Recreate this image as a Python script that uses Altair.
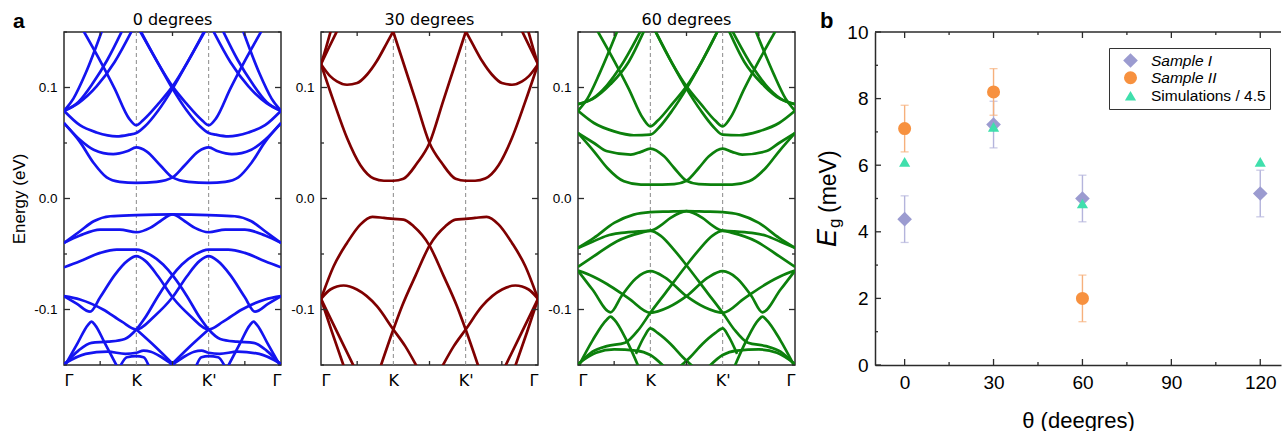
import json
import altair as alt
import pandas as pd

# ---------------- panel a : band structures ----------------
PATH_TICKS = [0, 1, 2, 3]
PATH_LABELS = ["Γ", "K", "K'", "Γ"]
VALLEYS = [1, 2]
E_MAJOR = [-0.1, 0.0, 0.1]
E_MINOR = [-0.15, -0.05, 0.05, 0.15]
K_MINOR = [0.5, 1.5, 2.5]
PANEL_TITLES = ["0 degrees", "30 degrees", "60 degrees"]
PANEL_COLORS = ["#1414f0", "#7f0000", "#0c800c"]

BANDS_0 = {
    "c1a": ([0, 0.22, 0.41, 0.59, 0.77, 1.0, 1.28, 1.5, 1.67, 1.86, 2.0, 2.13, 2.32, 2.59, 2.78, 3.0],
            [0.068, 0.051, 0.032, 0.019, 0.015, 0.014, 0.015, 0.019, 0.030, 0.0425, 0.046, 0.0425, 0.040, 0.044, 0.053, 0.068]),
    "c1b": ([0, 0.22, 0.41, 0.68, 0.87, 1.0, 1.14, 1.33, 1.5, 1.72, 2.0, 2.23, 2.41, 2.59, 2.78, 3.0],
            [0.068, 0.053, 0.044, 0.040, 0.0425, 0.046, 0.0425, 0.030, 0.019, 0.015, 0.014, 0.015, 0.019, 0.032, 0.051, 0.068]),
    "c3a": ([0, 0.22, 0.45, 0.73, 0.9, 1.0, 1.12, 1.3, 1.5, 1.7, 1.96],
            [0.079, 0.066, 0.0595, 0.056, 0.0575, 0.059, 0.065, 0.079, 0.099, 0.122, 0.152]),
    "c3b": ([1.04, 1.3, 1.5, 1.7, 1.88, 2.0, 2.1, 2.27, 2.55, 2.78, 3.0],
            [0.152, 0.122, 0.099, 0.079, 0.065, 0.059, 0.0575, 0.056, 0.0595, 0.066, 0.079]),
    "vka": ([0.26, 0.5, 0.7, 0.9, 1.0, 1.1, 1.3, 1.5, 1.7, 1.95],
            [0.152, 0.124, 0.099, 0.072, 0.066, 0.071, 0.085, 0.101, 0.122, 0.152]),
    "vkb": ([1.05, 1.3, 1.5, 1.7, 1.9, 2.0, 2.1, 2.3, 2.5, 2.74],
            [0.152, 0.122, 0.101, 0.085, 0.071, 0.066, 0.072, 0.099, 0.124, 0.152]),
    "r1a": ([0, 0.13, 0.3, 0.53], [0.079, 0.09, 0.113, 0.152]),
    "r2a": ([0, 0.2, 0.4, 0.6, 0.81], [0.079, 0.087, 0.104, 0.125, 0.152]),
    "r3a": ([0, 0.2, 0.45, 0.7, 0.945], [0.079, 0.086, 0.101, 0.123, 0.152]),
    "r1b": ([2.47, 2.7, 2.87, 3.0], [0.152, 0.113, 0.09, 0.079]),
    "r2b": ([2.19, 2.4, 2.6, 2.8, 3.0], [0.152, 0.125, 0.104, 0.087, 0.079]),
    "r3b": ([2.055, 2.3, 2.55, 2.8, 3.0], [0.152, 0.123, 0.101, 0.086, 0.079]),
    "vfa": ([0, 0.22, 0.41, 0.64, 1.0, 1.25, 1.5, 1.67, 1.81, 2.0, 2.23, 2.5, 2.78, 3.0],
            [-0.040, -0.0295, -0.0205, -0.016, -0.015, -0.0145, -0.0143, -0.0205, -0.0265, -0.0304, -0.028, -0.028, -0.0334, -0.040]),
    "vfb": ([0, 0.22, 0.5, 0.77, 1.0, 1.19, 1.33, 1.5, 1.75, 2.0, 2.36, 2.59, 2.78, 3.0],
            [-0.040, -0.0334, -0.028, -0.028, -0.0304, -0.0265, -0.0205, -0.0143, -0.0145, -0.015, -0.016, -0.0205, -0.0295, -0.040]),
    "v3a": ([0, 0.22, 0.5, 0.73, 1.0, 1.19, 1.37, 1.51, 1.7, 1.88, 2.0, 2.16, 2.39, 2.62, 2.8, 3.0],
            [-0.062, -0.0565, -0.049, -0.046, -0.046, -0.0505, -0.0595, -0.070, -0.088, -0.1075, -0.118, -0.1265, -0.129, -0.130, -0.137, -0.150]),
    "v3b": ([0, 0.2, 0.38, 0.61, 0.84, 1.0, 1.12, 1.3, 1.49, 1.63, 1.81, 2.0, 2.27, 2.5, 2.78, 3.0],
            [-0.150, -0.137, -0.130, -0.129, -0.1265, -0.118, -0.1075, -0.088, -0.070, -0.0595, -0.0505, -0.046, -0.046, -0.049, -0.0565, -0.062]),
    "v4a": ([0, 0.18, 0.36, 0.5, 0.7, 0.88, 1.0, 1.12, 1.3, 1.5, 1.75, 2.0, 2.2, 2.46, 2.78, 3.0],
            [-0.088, -0.095, -0.102, -0.089, -0.069, -0.056, -0.052, -0.056, -0.070, -0.089, -0.106, -0.118, -0.111, -0.100, -0.091, -0.088]),
    "v4b": ([0, 0.22, 0.54, 0.8, 1.0, 1.25, 1.5, 1.7, 1.88, 2.0, 2.12, 2.3, 2.5, 2.64, 2.82, 3.0],
            [-0.088, -0.091, -0.100, -0.111, -0.118, -0.106, -0.089, -0.070, -0.056, -0.052, -0.056, -0.069, -0.089, -0.102, -0.095, -0.088]),
    "pka": ([0, 0.19, 0.33, 0.38, 0.43, 0.57, 0.74], [-0.152, -0.13, -0.114, -0.111, -0.114, -0.131, -0.152]),
    "pkb": ([2.26, 2.43, 2.57, 2.62, 2.67, 2.81, 3.0], [-0.152, -0.131, -0.114, -0.111, -0.114, -0.13, -0.152]),
    "xa": ([1.0, 1.27, 1.55], [-0.118, -0.134, -0.152]),
    "xb": ([1.45, 1.73, 2.0], [-0.152, -0.134, -0.118]),
    "b1a": ([0, 0.3, 0.6, 0.85, 1.0, 1.1, 1.2, 1.35, 1.55], [-0.149, -0.140, -0.138, -0.140, -0.139, -0.137, -0.138, -0.143, -0.152]),
    "b1b": ([1.45, 1.65, 1.8, 1.9, 2.0, 2.15, 2.4, 2.7, 3.0], [-0.152, -0.143, -0.138, -0.137, -0.139, -0.140, -0.138, -0.140, -0.149]),
    "cpa": ([0.77, 0.87, 1.0, 1.1, 1.18], [-0.152, -0.143, -0.142, -0.143, -0.152]),
    "cpb": ([1.82, 1.9, 2.0, 2.13, 2.23], [-0.152, -0.143, -0.142, -0.143, -0.152]),
}

BANDS_30 = {
    "u1a": ([0, 0.13, 0.22, 0.36, 0.5, 0.635, 0.77, 0.91, 1.01],
            [0.121, 0.11, 0.1055, 0.1025, 0.104, 0.1115, 0.1236, 0.140, 0.152]),
    "u1b": ([1.99, 2.09, 2.23, 2.365, 2.5, 2.64, 2.78, 2.87, 3.0],
            [0.152, 0.140, 0.1236, 0.1115, 0.104, 0.1025, 0.1055, 0.11, 0.121]),
    "u2a": ([0, 0.175, 0.36, 0.545, 0.73, 0.87, 1.0, 1.14, 1.325, 1.5, 1.69, 1.875, 2.01],
            [0.121, 0.0875, 0.0545, 0.030, 0.018, 0.016, 0.016, 0.0178, 0.0315, 0.05, 0.088, 0.125, 0.152]),
    "u2b": ([0.99, 1.125, 1.31, 1.5, 1.675, 1.86, 2.0, 2.13, 2.27, 2.455, 2.64, 2.825, 3.0],
            [0.152, 0.125, 0.088, 0.05, 0.0315, 0.0178, 0.016, 0.016, 0.018, 0.030, 0.0545, 0.0875, 0.121]),
    "s1a": ([0, 0.07, 0.14], [0.121, 0.136, 0.152]),
    "s2a": ([0, 0.11, 0.23], [0.121, 0.136, 0.152]),
    "s1b": ([2.86, 2.93, 3.0], [0.152, 0.136, 0.121]),
    "s2b": ([2.77, 2.89, 3.0], [0.152, 0.136, 0.121]),
    "l1a": ([0, 0.175, 0.36, 0.543, 0.71, 0.87, 1.0, 1.14, 1.28, 1.5, 1.69, 1.88, 2.0, 2.18],
            [-0.0904, -0.061, -0.040, -0.0235, -0.0165, -0.0175, -0.0184, -0.019, -0.025, -0.0424, -0.069, -0.097, -0.118, -0.152]),
    "l1b": ([0.82, 1.0, 1.12, 1.31, 1.5, 1.72, 1.86, 2.0, 2.13, 2.29, 2.457, 2.64, 2.825, 3.0],
            [-0.152, -0.118, -0.097, -0.069, -0.0424, -0.025, -0.019, -0.0184, -0.0175, -0.0165, -0.0235, -0.040, -0.061, -0.0904]),
    "l2a": ([0, 0.129, 0.313, 0.497, 0.773, 1.0, 1.164, 1.33],
            [-0.0904, -0.082, -0.0784, -0.082, -0.097, -0.118, -0.133, -0.152]),
    "l2b": ([1.67, 1.836, 2.0, 2.227, 2.503, 2.687, 2.871, 3.0],
            [-0.152, -0.133, -0.118, -0.097, -0.082, -0.0784, -0.082, -0.0904]),
    "d1a": ([0, 0.15, 0.32], [-0.0904, -0.12, -0.152]),
    "d2a": ([0, 0.22, 0.46], [-0.0904, -0.12, -0.152]),
    "d1b": ([2.68, 2.85, 3.0], [-0.152, -0.12, -0.0904]),
    "d2b": ([2.54, 2.78, 3.0], [-0.152, -0.12, -0.0904]),
}

BANDS_60 = {
    "c1a": ([0, 0.22, 0.405, 0.635, 0.87, 1.0, 1.33, 1.5, 1.67, 1.81, 2.0, 2.13, 2.27, 2.595, 2.78, 3.0],
            [0.059, 0.0425, 0.0275, 0.0155, 0.0125, 0.0125, 0.013, 0.016, 0.0275, 0.038, 0.045, 0.042, 0.0395, 0.0425, 0.050, 0.059]),
    "c1b": ([0, 0.22, 0.405, 0.73, 0.87, 1.0, 1.19, 1.33, 1.5, 1.67, 2.0, 2.13, 2.365, 2.595, 2.78, 3.0],
            [0.059, 0.050, 0.0425, 0.0395, 0.042, 0.045, 0.038, 0.0275, 0.016, 0.013, 0.0125, 0.0125, 0.0155, 0.0275, 0.0425, 0.059]),
    "c3a": ([0, 0.22, 0.5, 0.77, 1.0, 1.12, 1.3, 1.5, 1.7, 1.94],
            [0.079, 0.068, 0.0605, 0.057, 0.0575, 0.064, 0.079, 0.099, 0.122, 0.152]),
    "c3b": ([1.06, 1.3, 1.5, 1.7, 1.88, 2.0, 2.23, 2.5, 2.78, 3.0],
            [0.152, 0.122, 0.099, 0.079, 0.064, 0.0575, 0.057, 0.0605, 0.068, 0.079]),
    "vka": ([0.26, 0.5, 0.7, 0.9, 1.0, 1.1, 1.3, 1.5, 1.7, 1.94],
            [0.152, 0.124, 0.099, 0.072, 0.065, 0.070, 0.085, 0.101, 0.122, 0.152]),
    "vkb": ([1.06, 1.3, 1.5, 1.7, 1.9, 2.0, 2.1, 2.3, 2.5, 2.74],
            [0.152, 0.122, 0.101, 0.085, 0.070, 0.065, 0.072, 0.099, 0.124, 0.152]),
    "r1a": ([0, 0.13, 0.3, 0.55], [0.079, 0.09, 0.113, 0.152]),
    "r2a": ([0, 0.2, 0.4, 0.6, 0.875], [0.085, 0.09, 0.102, 0.12, 0.152]),
    "r3a": ([0, 0.2, 0.45, 0.7, 0.92], [0.085, 0.0895, 0.103, 0.123, 0.152]),
    "r1b": ([2.45, 2.7, 2.87, 3.0], [0.152, 0.113, 0.09, 0.079]),
    "r2b": ([2.125, 2.4, 2.6, 2.8, 3.0], [0.152, 0.12, 0.102, 0.09, 0.085]),
    "r3b": ([2.08, 2.3, 2.55, 2.8, 3.0], [0.152, 0.123, 0.103, 0.0895, 0.085]),
    "tda": ([0, 0.2, 0.4, 0.6, 0.85, 1.0, 1.15, 1.28, 1.5, 1.75, 2.0, 2.23, 2.5, 2.78, 3.0],
            [-0.0445, -0.039, -0.0335, -0.031, -0.0295, -0.029, -0.024, -0.0175, -0.0114, -0.0118, -0.0123, -0.0145, -0.022, -0.0355, -0.0445]),
    "tfa": ([0, 0.22, 0.5, 0.77, 1.0, 1.25, 1.5, 1.72, 1.85, 2.0, 2.15, 2.4, 2.6, 2.8, 3.0],
            [-0.0445, -0.0355, -0.022, -0.0145, -0.0123, -0.0118, -0.0114, -0.0175, -0.024, -0.029, -0.0295, -0.031, -0.0335, -0.039, -0.0445]),
    "l3a": ([0, 0.22, 0.54, 0.865, 1.0, 1.14, 1.325, 1.51, 1.79, 2.0, 2.16, 2.35, 2.6, 2.8, 3.0],
            [-0.0616, -0.052, -0.0385, -0.031, -0.0292, -0.0334, -0.046, -0.061, -0.085, -0.103, -0.118, -0.130, -0.133, -0.138, -0.150]),
    "l3b": ([0, 0.2, 0.4, 0.65, 0.84, 1.0, 1.21, 1.49, 1.675, 1.86, 2.0, 2.135, 2.46, 2.78, 3.0],
            [-0.150, -0.138, -0.133, -0.130, -0.118, -0.103, -0.085, -0.061, -0.046, -0.0334, -0.0292, -0.031, -0.0385, -0.052, -0.0616]),
    "v4a": ([0, 0.2, 0.45, 0.6, 0.8, 1.0, 1.2, 1.5, 1.75, 2.0, 2.3, 2.6, 2.8, 3.0],
            [-0.065, -0.082, -0.1025, -0.088, -0.072, -0.0655, -0.071, -0.088, -0.098, -0.103, -0.090, -0.077, -0.070, -0.065]),
    "v4b": ([0, 0.2, 0.4, 0.7, 1.0, 1.25, 1.5, 1.8, 2.0, 2.2, 2.4, 2.55, 2.8, 3.0],
            [-0.065, -0.070, -0.077, -0.090, -0.103, -0.098, -0.088, -0.071, -0.0655, -0.072, -0.088, -0.1025, -0.082, -0.065]),
    "pka": ([0, 0.2, 0.4, 0.45, 0.5, 0.68, 0.84], [-0.152, -0.128, -0.109, -0.1065, -0.109, -0.129, -0.152]),
    "pkb": ([2.16, 2.32, 2.5, 2.55, 2.6, 2.8, 3.0], [-0.152, -0.129, -0.109, -0.1065, -0.109, -0.128, -0.152]),
    "qa": ([0.8, 0.92, 1.0, 1.1, 1.28, 1.45, 1.6], [-0.140, -0.124, -0.117, -0.121, -0.131, -0.143, -0.152]),
    "qb": ([1.4, 1.55, 1.72, 1.9, 2.0, 2.08, 2.2], [-0.152, -0.143, -0.131, -0.121, -0.117, -0.124, -0.140]),
    "sha": ([0, 0.25, 0.5, 0.8, 1.0, 1.2], [-0.149, -0.139, -0.136, -0.137, -0.141, -0.152]),
    "shb": ([1.8, 2.0, 2.2, 2.5, 2.75, 3.0], [-0.152, -0.141, -0.137, -0.136, -0.139, -0.149]),
}

# ---------------- panel b : gap vs twist angle ----------------
SERIES = ["Sample I", "Sample II", "Simulations / 4.5"]
SERIES_COLORS = ["#9b9bd0", "#f7913f", "#3fdfac"]
ERROR_COLORS = ["#b4b4dc", "#f6b07c", "#3fdfac"]
SERIES_SHAPES = ["diamond", "circle", "triangle-up"]
SERIES_SIZES = [215, 125, 290]
S1_THETA = [0, 30, 60, 120]
S1_EG = [4.38, 7.22, 5.0, 5.15]
S1_ERR = [0.7, 0.7, 0.7, 0.7]
S2_THETA = [0, 30, 60]
S2_EG = [7.1, 8.2, 2.0]
S2_ERR = [0.7, 0.7, 0.7]
SIM_THETA = [0, 30, 60, 120]
SIM_EG = [6.1, 7.15, 4.85, 6.1]
THETA_MAJOR = [0, 30, 60, 90, 120]
THETA_MINOR = [15, 45, 75, 105]
EG_MAJOR = [0, 2, 4, 6, 8, 10]
EG_MINOR = [1, 3, 5, 7, 9]

W, H = 217, 333
WB = 406
FONT = "Liberation Sans"
FRAME = "#2b2b2b"
PLOT0_LEFT, PLOT_TOP = 64, 32
LEGEND_BOX = (1109, 48)


def band_frame(bands):
    rows = []
    for name, (ks, es) in bands.items():
        for i, (k, e) in enumerate(zip(ks, es)):
            rows.append({"band": name, "k": k, "E": e, "i": i})
    return pd.DataFrame(rows)


def tick_rules(values, field, enc, side, length, size):
    df = pd.DataFrame({field: values})
    ch = alt.Chart(df).mark_rule(color=FRAME, strokeWidth=1.3)
    if side == "left":
        return ch.encode(y=enc(field), x=alt.value(0), x2=alt.value(length))
    if side == "right":
        return ch.encode(y=enc(field), x=alt.value(size - length), x2=alt.value(size))
    if side == "bottom":
        return ch.encode(x=enc(field), y=alt.value(size - length), y2=alt.value(size))
    return ch.encode(x=enc(field), y=alt.value(0), y2=alt.value(length))


def text_layer(txt, x, y, **kw):
    return alt.Chart(pd.DataFrame({"t": [txt]})).mark_text(color="black", **kw).encode(
        text="t:N", x=alt.value(x), y=alt.value(y))


label_js = json.dumps(PATH_LABELS, ensure_ascii=False)


def band_panel(bands, color, title, first):
    df = band_frame(bands)
    xs = alt.Scale(domain=[0, 3], nice=False, zero=False)
    ys = alt.Scale(domain=[-0.15, 0.15], nice=False, zero=False)
    x_axis = alt.Axis(values=PATH_TICKS, labelExpr=f"{label_js}[datum.value]",
                      ticks=False, domain=False, grid=False, title=None,
                      labelFontSize=16, labelPadding=7, labelFont="DejaVu Sans")
    y_axis = alt.Axis(values=E_MAJOR, labelExpr="replace(format(datum.value, '.1f'), '\u2212', '-')",
                      ticks=False, domain=False, grid=False,
                      title="Energy (eV)" if first else None,
                      titleFontSize=17, titlePadding=5, labelFontSize=13.5, labelPadding=7)

    def xe(f):
        return alt.X(f"{f}:Q", scale=xs, axis=x_axis)

    def ye(f):
        return alt.Y(f"{f}:Q", scale=ys, axis=y_axis)

    lines = alt.Chart(df).mark_line(clip=True, strokeWidth=2.7, color=color, interpolate="monotone").encode(
        x=xe("k"), y=ye("E"), detail="band:N", order="i:Q")
    dashes = alt.Chart(pd.DataFrame({"k": VALLEYS})).mark_rule(
        color="#8a8a8a", strokeWidth=1, strokeDash=[4, 3]).encode(x=xe("k"))
    layers = [dashes, lines,
              tick_rules(E_MAJOR, "E", ye, "left", 6, W), tick_rules(E_MAJOR, "E", ye, "right", 6, W),
              tick_rules(E_MINOR, "E", ye, "left", 3, W), tick_rules(E_MINOR, "E", ye, "right", 3, W),
              tick_rules(K_MINOR, "k", xe, "bottom", 4, H), tick_rules(K_MINOR, "k", xe, "top", 4, H),
              text_layer(title, W / 2, -7, font="DejaVu Sans", fontSize=16, align="center", baseline="alphabetic")]
    if first:
        layers.append(text_layer("a", -51, -4, font=FONT, fontSize=21, fontWeight="bold",
                                 align="left", baseline="alphabetic"))
    return alt.layer(*layers).properties(
        width=W, height=H,
        view=alt.ViewBackground(stroke=FRAME, strokeWidth=1.5),
    )


p0 = band_panel(BANDS_0, PANEL_COLORS[0], PANEL_TITLES[0], True)
p30 = band_panel(BANDS_30, PANEL_COLORS[1], PANEL_TITLES[1], False)
p60 = band_panel(BANDS_60, PANEL_COLORS[2], PANEL_TITLES[2], False)

# ---- panel b
rows = []
for th, eg, er in zip(S1_THETA, S1_EG, S1_ERR):
    rows.append({"series": SERIES[0], "theta": th, "Eg": eg, "err": er})
for th, eg, er in zip(S2_THETA, S2_EG, S2_ERR):
    rows.append({"series": SERIES[1], "theta": th, "Eg": eg, "err": er})
for th, eg in zip(SIM_THETA, SIM_EG):
    rows.append({"series": SERIES[2], "theta": th, "Eg": eg, "err": None})
pts = pd.DataFrame(rows)

xsb = alt.Scale(domain=[-10, 127], nice=False, zero=False)
ysb = alt.Scale(domain=[0, 10], nice=False, zero=False)
xb_axis = alt.Axis(values=THETA_MAJOR, ticks=False, grid=False, domain=True,
                   domainColor=FRAME, domainWidth=1.5, labelFontSize=19,
                   labelPadding=8, title="θ (deegres)", titleFontSize=22, titlePadding=18)
yb_axis = alt.Axis(values=EG_MAJOR, ticks=False, grid=False, domain=True,
                   domainColor=FRAME, domainWidth=1.5, labelFontSize=19,
                   labelPadding=7, title=None)


def xbe(f):
    return alt.X(f"{f}:Q", scale=xsb, axis=xb_axis)


def ybe(f):
    return alt.Y(f"{f}:Q", scale=ysb, axis=yb_axis)


err_layers = []
for s, col in zip(SERIES[:2], ERROR_COLORS[:2]):
    base = alt.Chart(pts).transform_filter(alt.datum.series == s).transform_calculate(
        lo="datum.Eg - datum.err", hi="datum.Eg + datum.err")
    err_layers.append(base.mark_rule(strokeWidth=1.4, color=col).encode(x=xbe("theta"), y=ybe("lo"), y2="hi:Q"))
    err_layers.append(base.mark_tick(orient="horizontal", size=8, thickness=1.3, color=col).encode(
        x=xbe("theta"), y=ybe("lo")))
    err_layers.append(base.mark_tick(orient="horizontal", size=8, thickness=1.3, color=col).encode(
        x=xbe("theta"), y=ybe("hi")))

points = alt.Chart(pts).mark_point(filled=True, opacity=1, strokeWidth=0).encode(
    x=xbe("theta"), y=ybe("Eg"),
    color=alt.Color("series:N", scale=alt.Scale(domain=SERIES, range=SERIES_COLORS),
                    legend=alt.Legend(title=None, orient="none",
                                      legendX=LEGEND_BOX[0] - PLOT0_LEFT, legendY=LEGEND_BOX[1] - PLOT_TOP,
                                      strokeColor="#333", fillColor="white", padding=4,
                                      labelFont=FONT, labelFontSize=15.5, labelColor="black",
                                      labelFontStyle=alt.ExprRef(
                                          expr="datum.label == 'Simulations / 4.5' ? 'normal' : 'italic'"),
                                      rowPadding=1, symbolOffset=9, labelOffset=12)),
    shape=alt.Shape("series:N", scale=alt.Scale(domain=SERIES, range=SERIES_SHAPES)),
    size=alt.Size("series:N", scale=alt.Scale(domain=SERIES, range=SERIES_SIZES)),
)
top_line = alt.Chart(pd.DataFrame({"t": [0]})).mark_rule(color=FRAME, strokeWidth=1.5).encode(
    x=alt.value(0), x2=alt.value(WB), y=alt.value(0))
ylab = [
    text_layer("E", -39, 215, font=FONT, fontSize=27, fontStyle="italic", angle=270,
               align="left", baseline="alphabetic"),
    text_layer("g", -35, 196, font=FONT, fontSize=17, angle=270, align="left", baseline="alphabetic"),
    text_layer("(meV)", -39, 181, font=FONT, fontSize=23, angle=270, align="left", baseline="alphabetic"),
    text_layer("b", -55, -4, font=FONT, fontSize=22, fontWeight="bold", align="left", baseline="alphabetic"),
]
pb = alt.layer(
    *err_layers, points, top_line,
    tick_rules(EG_MAJOR, "Eg", ybe, "left", 6, WB), tick_rules(EG_MINOR, "Eg", ybe, "left", 3, WB),
    tick_rules(THETA_MAJOR, "theta", xbe, "bottom", 6, H), tick_rules(THETA_MINOR, "theta", xbe, "bottom", 3, H),
    tick_rules(THETA_MAJOR, "theta", xbe, "top", 6, H), tick_rules(THETA_MINOR, "theta", xbe, "top", 3, H),
    *ylab,
).properties(width=WB, height=H, view=alt.ViewBackground(stroke=None))

chart = alt.hconcat(
    alt.hconcat(p0, p30, p60, spacing=6),
    pb, spacing=17,
).properties(padding={"left": 9, "top": 10, "right": 0, "bottom": 0}).configure_axis(
    labelFont=FONT, titleFont=FONT, labelColor="black", titleColor="black", titleFontWeight="normal"
).configure_view(stroke=FRAME)

chart.save("out.html", embed_options={"renderer": "svg", "actions": False})
